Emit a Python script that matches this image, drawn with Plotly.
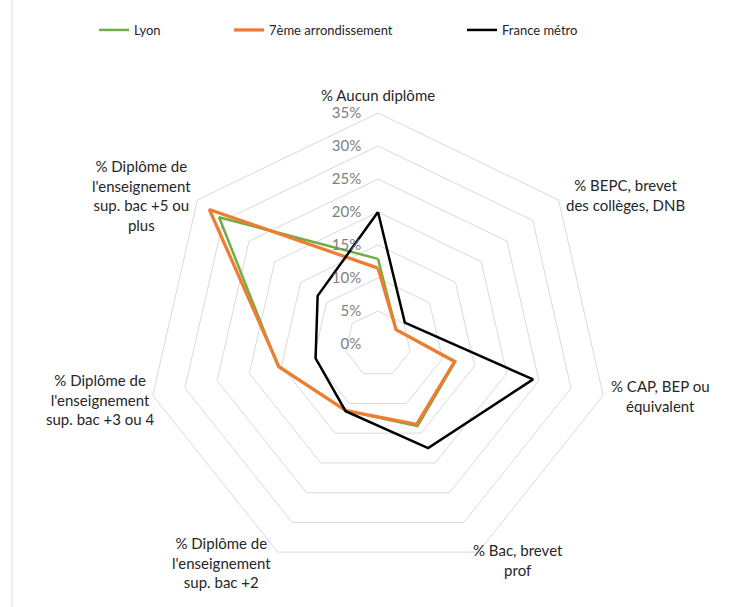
import plotly.graph_objects as go

categories = [
    "% Aucun diplôme",
    "% BEPC, brevet<br>des collèges, DNB",
    "% CAP, BEP ou<br>équivalent",
    "% Bac, brevet<br>prof",
    "% Diplôme de<br>l'enseignement<br>sup. bac +2",
    "% Diplôme de<br>l'enseignement<br>sup. bac +3 ou 4",
    "% Diplôme de<br>l'enseignement<br>sup. bac +5 ou<br>plus",
]
lyon = [12.9, 3.5, 12.0, 13.8, 11.2, 15.5, 30.8]
arr7 = [11.5, 3.5, 11.9, 13.5, 11.2, 15.4, 32.7]
france = [20.0, 5.2, 24.1, 17.5, 11.3, 9.7, 11.7]
radial_ticks = [0, 5, 10, 15, 20, 25, 30, 35]
radial_ticktext = [f"{v}%" for v in radial_ticks]

series = [
    ("Lyon", lyon, "#70AD47", 2.5, "legend"),
    ("7ème arrondissement", arr7, "#ED7D31", 3.25, "legend2"),
    ("France métro", france, "#000000", 2.5, "legend3"),
]

# category label centres (pixels from top-left), layout only
label_pos = [(378, 95), (625, 195), (660, 396), (518, 560), (222, 562), (100, 400), (141, 195)]

FONT = "Lato, 'Open Sans', sans-serif"
fig = go.Figure()
for name, vals, color, w, lg in series:
    fig.add_trace(go.Scatterpolar(
        r=vals + [vals[0]],
        theta=categories + [categories[0]],
        mode="lines",
        name=name,
        line=dict(color=color, width=w),
        legend=lg,
        showlegend=True,
    ))

W, H = 733, 607
cx, cy, R = 378, 344, 231
leg_common = dict(orientation="h", yanchor="middle", y=1 - 30 / H, xanchor="left",
                  font=dict(family=FONT, size=13, color="#262626"),
                  bgcolor="rgba(0,0,0,0)", itemwidth=30, visible=True)

annotations = [
    dict(text=cat, x=px / W, y=1 - py / H, xref="paper", yref="paper",
         xanchor="center", yanchor="middle", align="center", showarrow=False,
         font=dict(family=FONT, size=15, color="#262626"))
    for cat, (px, py) in zip(categories, label_pos)
]

fig.update_layout(
    width=W, height=H,
    margin=dict(l=0, r=0, t=0, b=0),
    paper_bgcolor="white",
    showlegend=True,
    font=dict(family=FONT, color="#262626"),
    legend=dict(x=94 / W, **leg_common),
    legend2=dict(x=229 / W, **leg_common),
    legend3=dict(x=462 / W, **leg_common),
    polar=dict(
        domain=dict(x=[(cx - R) / W, (cx + R) / W], y=[(H - cy - R) / H, (H - cy + R) / H]),
        gridshape="linear",
        bgcolor="white",
        radialaxis=dict(
            range=[0, 35], tickmode="array", tickvals=radial_ticks, ticktext=radial_ticktext,
            angle=90, tickangle=90, showline=False,
            ticks="outside", ticklen=11, tickcolor="rgba(0,0,0,0)",
            gridcolor="#d9d9d9", gridwidth=1,
            tickfont=dict(family=FONT, size=15, color="#7f7f7f"),
            side="counterclockwise",
        ),
        angularaxis=dict(
            direction="clockwise", rotation=90,
            showgrid=False, showline=True, linecolor="#d9d9d9", linewidth=1,
            ticks="", showticklabels=False,
        ),
    ),
    annotations=annotations,
    shapes=[dict(type="line", xref="paper", yref="paper", x0=12 / W, x1=12 / W, y0=0, y1=1,
                 line=dict(color="#d9d9d9", width=1))],
)
fig.write_html("out.html", config={"displayModeBar": False},
               post_script="document.body.style.margin='0';")
